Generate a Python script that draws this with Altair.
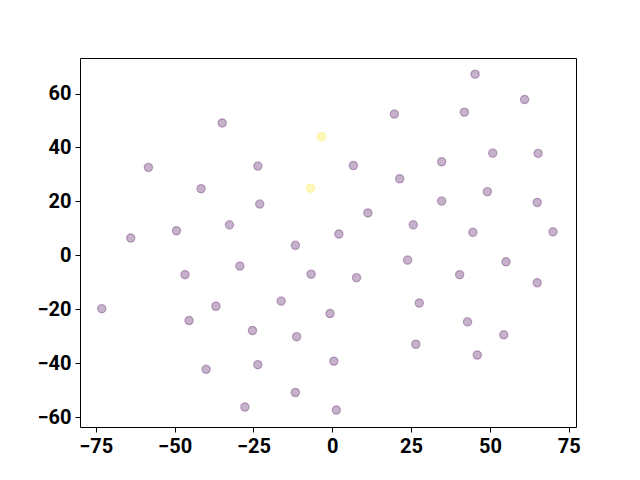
import altair as alt
import pandas as pd

xs = [-73.1, -63.9, -58.3, -49.4, -46.7, -45.4, -41.6, -40.0, -36.9, -34.9,
      -32.6, -29.3, -27.7, -25.3, -23.6, -23.0, -23.6, -16.2, -11.7, -11.3,
      -11.7, -6.9, -6.7, -3.4, -0.7, 0.5, 1.3, 2.1, 6.7, 7.7,
      11.3, 19.7, 21.4, 23.9, 25.7, 26.5, 27.6, 34.7, 34.7, 40.4,
      41.9, 42.9, 44.6, 45.3, 46.0, 49.2, 50.9, 55.1, 54.4, 61.0,
      65.3, 65.0, 65.0, 70.0]
ys = [-19.8, 6.4, 32.6, 9.1, -7.2, -24.2, 24.7, -42.3, -18.9, 49.1,
      11.3, -4.0, -56.3, -27.9, 33.1, 19.0, -40.6, -17.0, 3.7, -30.2,
      -50.9, 24.9, -7.0, 44.0, -21.6, -39.3, -57.4, 7.9, 33.3, -8.3,
      15.7, 52.4, 28.4, -1.8, 11.3, -33.0, -17.7, 34.7, 20.1, -7.2,
      53.1, -24.7, 8.5, 67.2, -37.0, 23.6, 37.9, -2.4, -29.5, 57.8,
      37.8, 19.6, -10.2, 8.7]
labels = [0] * len(xs)
labels[21] = 1
labels[23] = 1

x_ticks = [-75, -50, -25, 0, 25, 50, 75]
y_ticks = [-60, -40, -20, 0, 20, 40, 60]

df = pd.DataFrame({"x": xs, "y": ys, "label": labels})

axis_common = dict(
    grid=False, domain=False, tickColor="black", tickSize=5, tickWidth=1,
    labelFont="Roboto", labelFontSize=20, labelFontWeight="bold",
    labelColor="black", labelPadding=4, title=None,
)

chart = alt.Chart(df).mark_circle(
    size=70, fillOpacity=0.3, strokeOpacity=0.3, strokeWidth=1.2
).encode(
    x=alt.X("x:Q", scale=alt.Scale(domain=[-80.0, 77.3], nice=False, zero=False),
            axis=alt.Axis(values=x_ticks, **axis_common)),
    y=alt.Y("y:Q", scale=alt.Scale(domain=[-63.7, 73.2], nice=False, zero=False),
            axis=alt.Axis(values=y_ticks, **axis_common)),
    fill=alt.Fill("label:O", scale=alt.Scale(domain=[0, 1], range=["#440154", "#fde725"]), legend=None),
    stroke=alt.Stroke("label:O", scale=alt.Scale(domain=[0, 1], range=["#440154", "#fde725"]), legend=None),
).properties(
    width=496, height=369,
    autosize=alt.AutoSizeParams(type="none"),
    padding={"left": 72, "top": 50, "right": 56, "bottom": 45},
).configure_view(stroke="black", strokeWidth=1)

chart.save("out.html", embed_options={"renderer": "svg", "actions": False})
